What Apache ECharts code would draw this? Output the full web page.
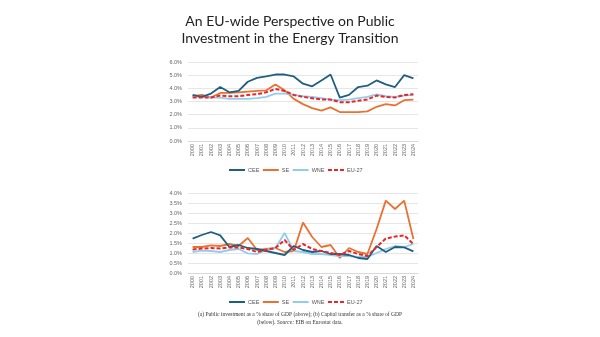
<!DOCTYPE html>
<html><head><meta charset="utf-8">
<script src="https://cdn.jsdelivr.net/npm/echarts@6/dist/echarts.min.js"></script>
<style>html,body{margin:0;padding:0;background:#fff}#c{width:600px;height:337px}</style>
</head><body><div id="c"></div>
<script>
var years = ['2000','2001','2002','2003','2004','2005','2006','2007','2008','2009','2010','2011','2012','2013','2014','2015','2016','2017','2018','2019','2020','2021','2022','2023','2024'];
var names = ['CEE','SE','WNE','EU-27'];
// (a) public investment, % of GDP
var invCEE = [3.5,3.35,3.6,4.1,3.7,3.8,4.5,4.8,4.9,5.05,5.05,4.9,4.35,4.15,4.6,5.05,3.3,3.5,4.1,4.2,4.6,4.3,4.1,5.0,4.75];
var invSE  = [3.4,3.5,3.3,3.65,3.65,3.7,3.75,3.8,3.85,4.3,3.85,3.2,2.8,2.5,2.3,2.55,2.2,2.2,2.2,2.25,2.6,2.8,2.7,3.1,3.15];
var invWNE = [3.4,3.35,3.3,3.3,3.2,3.2,3.2,3.25,3.35,3.6,3.6,3.5,3.4,3.35,3.25,3.15,3.1,3.15,3.25,3.35,3.55,3.4,3.35,3.45,3.5];
var invEU  = [3.3,3.3,3.3,3.45,3.4,3.4,3.5,3.55,3.7,3.95,3.8,3.5,3.35,3.25,3.15,3.15,2.95,2.95,3.05,3.15,3.45,3.35,3.3,3.5,3.55];
// (b) capital transfers, % of GDP
var ctCEE = [1.72,1.9,2.05,1.88,1.3,1.4,1.25,1.2,1.1,1.0,0.9,1.35,1.15,1.05,1.1,0.95,0.95,0.9,0.75,0.7,1.35,1.05,1.3,1.28,1.08];
var ctSE  = [1.3,1.3,1.38,1.35,1.45,1.35,1.75,1.15,1.2,1.25,1.05,1.1,2.52,1.8,1.3,1.4,0.75,1.25,1.05,0.95,2.2,3.62,3.2,3.62,1.7];
var ctWNE = [1.05,1.12,1.1,1.05,1.15,1.2,0.98,0.95,1.15,1.25,2.0,1.1,1.05,0.95,0.95,0.9,0.85,0.85,0.8,0.8,1.0,1.2,1.35,1.3,1.45];
var ctEU  = [1.18,1.22,1.25,1.22,1.28,1.28,1.2,1.05,1.15,1.25,1.65,1.15,1.45,1.2,1.1,1.0,0.9,1.1,0.95,0.85,1.3,1.72,1.82,1.88,1.45];

var colors = ['#215F80','#E97132','#94CDEB','#E8262A'];
var chart = echarts.init(document.getElementById('c'), null, {renderer:'canvas'});
function xAx(i){return {type:'category',gridIndex:i,data:years,boundaryGap:true,
  axisLine:{lineStyle:{color:'#d9d9d9'}},axisTick:{show:false},
  axisLabel:{rotate:90,fontSize:5.5,color:'#666',margin:3,interval:0,fontFamily:'Liberation Sans'}};}
function yAx(i,max,itv){return {type:'value',gridIndex:i,min:0,max:max,interval:itv,
  axisLine:{show:false},axisTick:{show:false},
  splitLine:{lineStyle:{color:'#e6e6e6',width:1}},
  axisLabel:{fontSize:5.5,color:'#666',margin:6,fontFamily:'Liberation Sans',formatter:function(v){return v.toFixed(1)+'%';}}};}
var data = [[invCEE,invSE,invWNE,invEU],[ctCEE,ctSE,ctWNE,ctEU]];
var series = [];
for (var g=0; g<2; g++) for (var k=0;k<4;k++){
  series.push({name:names[k],type:'line',xAxisIndex:g,yAxisIndex:g,data:data[g][k],symbol:'none',
    z: k===3?5:(k===0?4:3),
    lineStyle:{color:colors[k],width:k===3?2:1.8,type:k===3?[4,2]:'solid'},itemStyle:{color:colors[k]}});
}
function leg(top){return {top:top,left:223,orient:'horizontal',itemWidth:16,itemHeight:6,itemGap:2.5,
  itemStyle:{opacity:0},
  data:names,textStyle:{fontSize:5.5,color:'#555',fontFamily:'Liberation Sans',padding:[0,0,0,-2]}};}
chart.setOption({
  animation:false,
  color:colors,
  title:{text:'An EU-wide Perspective on Public\nInvestment in the Energy Transition',left:285,top:8,textAlign:'center',
    textStyle:{fontSize:14,fontWeight:'normal',color:'#222',lineHeight:17,fontFamily:'Lato'}},
  grid:[{left:188,right:182,top:62,bottom:196},{left:188,right:182,top:193,bottom:64}],
  xAxis:[xAx(0),xAx(1)],
  yAxis:[yAx(0,6,1),yAx(1,4,0.5)],
  legend:[leg(162),leg(294)],
  series:series,
  graphic:[{type:'text',left:'center',top:311,style:{
    text:'(a) Public investment as a % share of GDP (above); (b) Capital transfer as a % share of GDP\n(below). {i|Source:} EIB on Eurostat data.',
    textAlign:'center',fill:'#333',font:'5.5px "Liberation Serif"',lineHeight:8,
    rich:{i:{fontStyle:'italic',fontSize:5.5,fontFamily:'Liberation Serif',fill:'#333'}}}}]
});
</script></body></html>
